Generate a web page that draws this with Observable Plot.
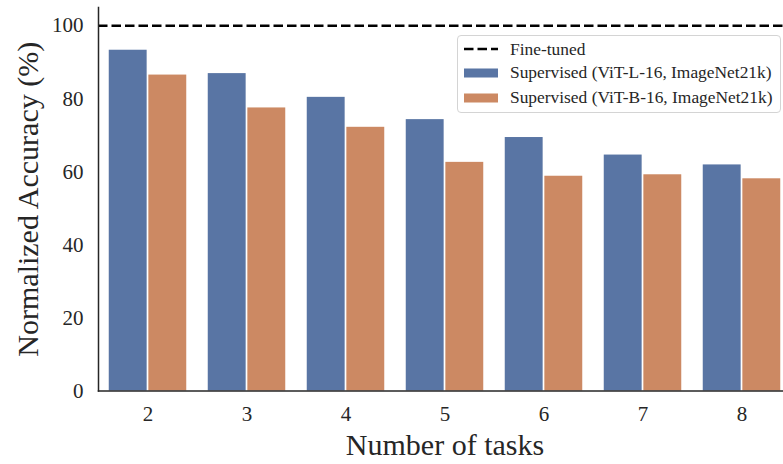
<!DOCTYPE html>
<html><head><meta charset="utf-8">
<script src="https://cdn.jsdelivr.net/npm/d3@7"></script>
<script src="https://cdn.jsdelivr.net/npm/@observablehq/plot@0.6"></script>
<style>
body{margin:0;background:#fff;}
#wrap{position:relative;width:783px;height:464px;overflow:hidden;}
#wrap > svg{max-width:none !important;}
#legend{position:absolute;left:457px;top:35px;width:322px;height:76px;border:1px solid #d4d4d4;border-radius:4px;background:rgba(255,255,255,0.8);font-family:"Liberation Serif",serif;font-size:17.4px;color:#262626;}
.row{position:absolute;left:0;height:24px;display:flex;align-items:center;white-space:nowrap;}
.row svg{margin-left:6px;margin-right:12px;}
</style>
</head><body>
<div id="wrap"></div>
<script>
const tasks = ["2","3","4","5","6","7","8"];
const vitL = [93.3, 86.9, 80.4, 74.3, 69.4, 64.6, 61.9];
const vitB = [86.5, 77.5, 72.2, 62.6, 58.8, 59.2, 58.1];
const fineTuned = 100;
const seriesNames = ["Supervised (ViT-L-16, ImageNet21k)", "Supervised (ViT-B-16, ImageNet21k)"];
const seriesColors = ["#5975a4", "#cc8963"];
const yTicks = [0, 20, 40, 60, 80, 100];

const rows = tasks.map((t, i) => ({task: t, L: vitL[i], B: vitB[i]}));
const ink = "#262626";
const font = "Liberation Serif";

const plot = Plot.plot({
  width: 791, height: 464,
  marginLeft: 98, marginRight: 0, marginTop: 7, marginBottom: 73.5,
  style: {fontFamily: font, background: "#fff", overflow: "visible", maxWidth: "none"},
  x: {type: "band", domain: tasks, paddingInner: 0.2, paddingOuter: 0.1},
  y: {domain: [0, 105]},
  marks: [
    Plot.barY(rows, {x: "task", y: "L", fill: seriesColors[0], insetLeft: 0.75, insetRight: 40.35}),
    Plot.barY(rows, {x: "task", y: "B", fill: seriesColors[1], insetLeft: 40.35, insetRight: 0.75}),
    Plot.ruleY([fineTuned], {stroke: "#000", strokeWidth: 2.5, strokeDasharray: "9.5,4"}),
    Plot.frame({anchor: "left", stroke: ink, strokeWidth: 1.5}),
    Plot.frame({anchor: "bottom", stroke: ink, strokeWidth: 1.5}),
    Plot.axisX({tickSize: 0, tickPadding: 15, fontSize: 21, label: null, color: ink}),
    Plot.axisY({ticks: yTicks, tickSize: 0, tickPadding: 15, fontSize: 21, label: null, color: ink}),
    Plot.text(["Number of tasks"], {frameAnchor: "bottom", dy: 54, fontSize: 30, fill: ink, lineAnchor: "middle", textAnchor: "middle"}),
    Plot.text(["Normalized Accuracy (%)"], {frameAnchor: "left", dx: -70.5, rotate: -90, fontSize: 30, fill: ink, lineAnchor: "middle", textAnchor: "middle"})
  ]
});
const wrap = document.getElementById("wrap");
wrap.appendChild(plot);

// legend
const legend = document.createElement("div");
legend.id = "legend";
const entries = [{name: "Fine-tuned", type: "line"}].concat(seriesNames.map((n, i) => ({name: n, type: "patch", color: seriesColors[i]})));
const rowTops = [1, 24.7, 49.7];
entries.forEach((e, i) => {
  const r = document.createElement("div");
  r.className = "row";
  r.style.top = rowTops[i] + "px";
  const s = d3.create("svg").attr("width", 34).attr("height", 12);
  if (e.type === "line") {
    s.append("line").attr("x1", 0).attr("x2", 34).attr("y1", 6).attr("y2", 6)
      .attr("stroke", "#000").attr("stroke-width", 2.5).attr("stroke-dasharray", "9.5,4");
  } else {
    s.append("rect").attr("x", 0).attr("y", 1.5).attr("width", 34).attr("height", 9).attr("fill", e.color);
  }
  r.appendChild(s.node());
  const t = document.createElement("span");
  t.textContent = e.name;
  r.appendChild(t);
  legend.appendChild(r);
});
wrap.appendChild(legend);
</script>
</body></html>
